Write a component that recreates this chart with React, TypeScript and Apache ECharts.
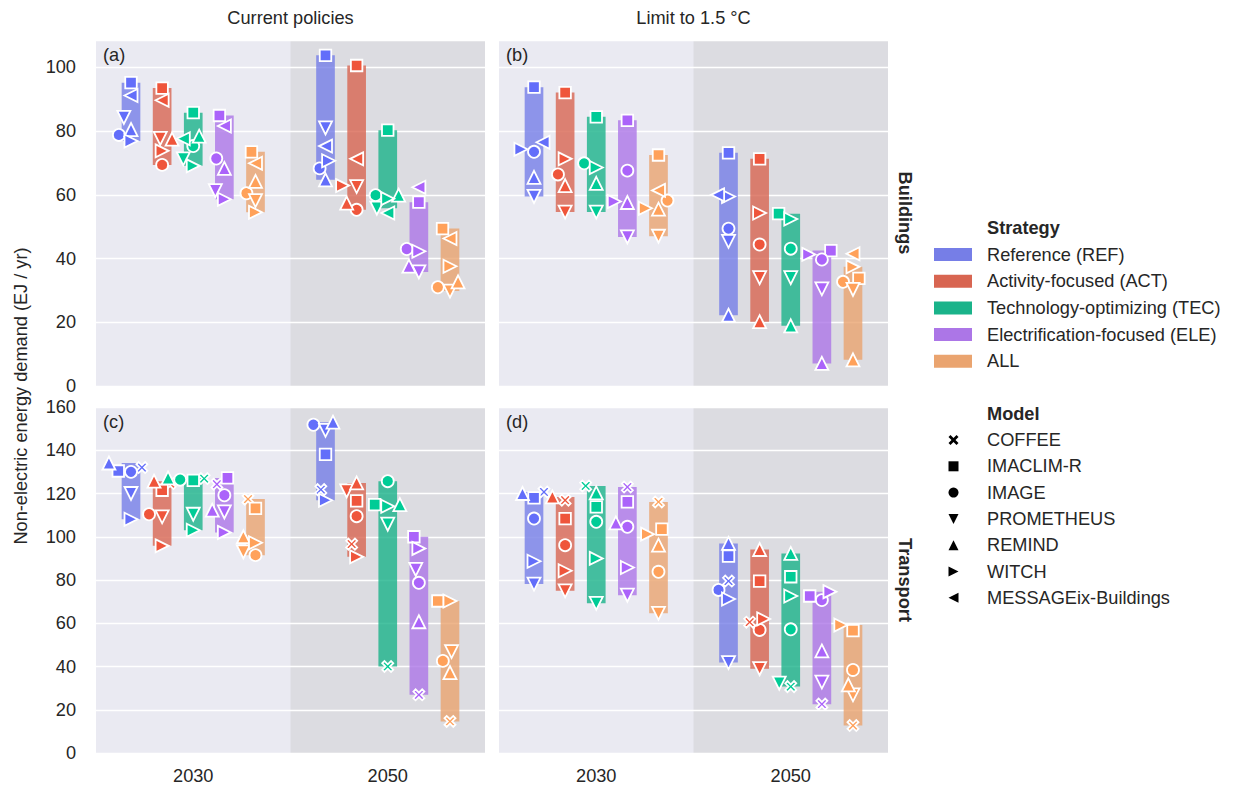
import { useEffect, useRef } from "react";
import * as echarts from "echarts";

// ---------- data ----------
const SCENARIOS = ["Current policies", "Limit to 1.5 °C"];
const SECTORS = ["Buildings", "Transport"];
const YEARS = ["2030", "2050"];
const STRATEGIES = [
  "Reference (REF)",
  "Activity-focused (ACT)",
  "Technology-optimizing (TEC)",
  "Electrification-focused (ELE)",
  "ALL",
];
const MODELS = ["COFFEE", "IMACLIM-R", "IMAGE", "PROMETHEUS", "REMIND", "WITCH", "MESSAGEix-Buildings"];
const BAR_EXCLUDED_MODELS = ["MESSAGEix-Buildings"];
const PANEL_TAGS = ["(a)", "(b)", "(c)", "(d)"];
const Y_LABEL = "Non-electric energy demand (EJ / yr)";

const N = null;
// columns: 2030 REF, ACT, TEC, ELE, ALL, 2050 REF, ACT, TEC, ELE, ALL ; rows follow MODELS
const BUILDINGS_CURRENT: (number | null)[][] = [
  [N, N, N, N, N, N, N, N, N, N],
  [95.2, 93.5, 85.8, 84.9, 73.5, 103.8, 100.6, 80.3, 57.7, 49.4],
  [78.8, 69.4, 75.3, 71.4, 60.5, 68.3, 55.3, 59.9, 43.0, 31.0],
  [84.3, 77.7, 71.3, 61.3, 58.2, 81.0, 62.6, 55.8, 35.8, 29.8],
  [80.5, 77.5, 78.4, 68.3, 64.2, 64.7, 57.4, 59.9, 37.6, 32.7],
  [76.9, 73.8, 69.1, 58.6, 54.5, 70.7, 62.9, 58.8, 42.3, 37.6],
  [91.2, 89.7, 77.6, 81.6, 69.9, 75.3, 71.3, 54.3, 62.4, 46.3],
];
const BUILDINGS_15: (number | null)[][] = [
  [N, N, N, N, N, N, N, N, N, N],
  [93.8, 92.1, 84.5, 83.4, 72.5, 73.2, 71.3, 54.1, 42.5, 33.8],
  [73.5, 66.4, 69.9, 67.6, 58.2, 49.4, 44.4, 43.1, 39.7, 32.7],
  [59.5, 54.6, 54.6, 46.8, 47.0, 45.4, 34.0, 34.0, 30.5, 30.3],
  [65.5, 62.9, 63.6, 57.6, 55.5, 22.2, 20.2, 18.9, 7.1, 8.2],
  [74.3, 71.3, 68.6, 57.9, 55.8, 59.5, 54.3, 52.4, 41.3, 37.4],
  [76.5, N, N, N, 61.4, 60.0, N, N, N, 41.5],
];
const TRANSPORT_CURRENT: (number | null)[][] = [
  [132.0, 124.6, 126.9, 124.3, 117.4, 121.8, 96.6, 40.0, 26.9, 14.6],
  [130.4, 121.5, 126.1, 127.2, 113.1, 138.1, 116.6, 114.9, 100.0, 70.3],
  [130.0, 110.4, 126.4, 119.2, 91.5, 151.8, 109.5, 125.7, 78.7, 42.6],
  [120.0, 109.2, 110.4, 111.5, 93.0, 149.2, 121.2, 105.8, 84.9, 46.9],
  [134.1, 125.7, 127.2, 112.3, 100.0, 153.0, 124.9, 114.9, 60.7, 37.2],
  [108.1, 95.8, 103.0, 102.0, 97.2, 116.9, 90.7, 114.1, 94.6, 70.3],
  [N, N, N, N, N, N, N, N, N, N],
];
const TRANSPORT_15: (number | null)[][] = [
  [120.7, 116.9, 123.5, 123.0, 116.1, 79.5, 60.5, 30.7, 22.6, 12.7],
  [118.0, 108.4, 113.8, 116.1, 103.5, 91.0, 79.5, 81.5, 72.6, 56.6],
  [108.4, 96.1, 106.9, 104.6, 83.8, 75.4, 56.9, 57.2, 70.7, 38.4],
  [78.1, 75.0, 69.2, 73.0, 64.6, 41.8, 39.0, 32.3, 32.8, 26.9],
  [120.0, 118.4, 120.3, 106.4, 96.1, 96.9, 94.1, 92.3, 47.2, 31.5],
  [88.7, 84.3, 90.0, 85.8, 101.2, 71.2, 62.0, 72.6, 74.6, 59.2],
  [N, N, N, N, N, N, N, N, N, N],
];

// horizontal dodge of each marker, as a fraction of one strategy slot
const Z10 = [0, 0, 0, 0, 0, 0, 0, 0, 0, 0];
const DODGE_BUILDINGS_CURRENT = [
  Z10,
  [0, 0, 0, -0.16, -0.13, 0, 0, 0, 0, -0.24],
  [-0.39, 0, 0, -0.26, -0.29, -0.19, 0, -0.39, -0.39, -0.39],
  [-0.23, -0.06, -0.32, -0.29, 0, 0, 0, -0.35, 0, 0],
  [0, 0.32, 0.19, 0, 0, 0, -0.32, 0.35, -0.32, 0.26],
  [0, 0, 0, 0, 0, 0.1, -0.45, 0, 0, 0],
  [0, 0, -0.32, 0, 0, 0, 0, 0, 0, 0],
];
const DODGE_BUILDINGS_15 = [
  Z10,
  [0, 0, 0, 0, 0, 0, 0, -0.39, 0.29, 0.19],
  [0, -0.23, -0.39, 0, 0.29, 0, 0, 0, 0, -0.32],
  Z10,
  Z10,
  [-0.42, 0, 0, -0.42, -0.42, 0, 0, 0, -0.42, 0],
  [0.29, 0, 0, 0, 0, -0.35, 0, 0, 0, 0],
];
const DODGE_TRANSPORT_CURRENT = [
  [0.35, 0.26, 0.35, -0.24, -0.24, -0.15, -0.16, 0, 0, 0],
  [-0.41, 0, 0, 0.1, 0, 0, 0, -0.42, -0.16, -0.39],
  [0, -0.42, -0.42, 0, 0, -0.39, 0, 0, 0, -0.23],
  [0, 0, 0, 0, -0.39, 0, -0.32, 0, -0.1, 0.05],
  [-0.71, -0.26, -0.81, -0.39, -0.39, 0.24, 0, 0.39, 0, 0],
  Z10,
  Z10,
];
const DODGE_TRANSPORT_15 = [
  [0.32, 0, -0.34, 0, 0, 0, -0.32, 0, 0, 0],
  [0, 0, 0, 0, 0.11, 0, 0, 0, -0.39, 0],
  [0, 0, 0, 0, 0, -0.32, 0, 0, 0, 0],
  [0, 0, 0, 0, 0, 0, 0, -0.37, 0, 0],
  [-0.37, -0.41, 0, -0.37, 0, 0, 0, 0, 0, -0.15],
  [0, 0, 0, 0, -0.35, 0, 0.13, 0, 0.26, -0.39],
  Z10,
];

// ---------- styling ----------
const MARKER_COLORS = ["#636EFA", "#EF553B", "#00CC96", "#AB63FA", "#FFA15A"];
const BAR_COLORS = ["#767EE7", "#D86551", "#1AB38A", "#AC76E7", "#EAA46F"];
const FONT = "'Liberation Sans', Arial, Helvetica, sans-serif";
const TEXT = "#262626";
const FS = 18.2;

const SHAPES: Record<string, number[][]> = {
  COFFEE: [[0, 2], [2, 0], [5, 3], [8, 0], [10, 2], [7, 5], [10, 8], [8, 10], [5, 7], [2, 10], [0, 8], [3, 5]],
  "IMACLIM-R": [[0, 0], [10, 0], [10, 10], [0, 10]],
  PROMETHEUS: [[0, 0], [10, 0], [5, 10]],
  REMIND: [[5, 0], [10, 10], [0, 10]],
  WITCH: [[0, 0], [10, 5], [0, 10]],
  "MESSAGEix-Buildings": [[10, 0], [0, 5], [10, 10]],
};
const SYMBOL_SIZE: Record<string, number> = {
  COFFEE: 11, "IMACLIM-R": 11.5, IMAGE: 12, PROMETHEUS: 13, REMIND: 13, WITCH: 13, "MESSAGEix-Buildings": 13,
};
const symbolOf = (m: string) =>
  m === "IMAGE" ? "circle" : "path://M" + SHAPES[m].map((p) => p.join(",")).join(" L") + " Z";

const GRID_LEFT = [96, 499];
const GRID_TOP = [40, 407];
const GRID_W = 389;
const GRID_H = 346;
const Y_MAX = [108.6, 160];
const SLOT = 0.16;
const BAR_W = 0.096;

const PANELS = [
  { values: BUILDINGS_CURRENT, dodge: DODGE_BUILDINGS_CURRENT, row: 0, col: 0 },
  { values: BUILDINGS_15, dodge: DODGE_BUILDINGS_15, row: 0, col: 1 },
  { values: TRANSPORT_CURRENT, dodge: DODGE_TRANSPORT_CURRENT, row: 1, col: 0 },
  { values: TRANSPORT_15, dodge: DODGE_TRANSPORT_15, row: 1, col: 1 },
];

const colX = (k: number) => Math.floor(k / 5) + 0.5 + ((k % 5) - 2) * SLOT;

function buildOption() {
  const grid: any[] = [];
  const xAxis: any[] = [];
  const yAxis: any[] = [];
  const series: any[] = [];
  const graphic: any[] = [];

  PANELS.forEach((p, i) => {
    grid.push({
      left: GRID_LEFT[p.col], top: GRID_TOP[p.row], width: GRID_W, height: GRID_H,
      show: true, backgroundColor: "#EAEAF2", borderWidth: 0,
    });
    xAxis.push({
      gridIndex: i, type: "value", min: 0, max: 2, interval: 0.5,
      axisLine: { show: false }, axisTick: { show: false }, splitLine: { show: false },
      axisLabel: {
        show: p.row === 1, margin: 14, fontSize: FS, color: TEXT, fontFamily: FONT,
        formatter: (v: number) => (Math.abs(v - 0.5) < 1e-6 ? YEARS[0] : Math.abs(v - 1.5) < 1e-6 ? YEARS[1] : ""),
      },
    });
    yAxis.push({
      gridIndex: i, type: "value", min: 0, max: Y_MAX[p.row], interval: 20, z: 1,
      axisLine: { show: false }, axisTick: { show: false },
      splitLine: { show: true, lineStyle: { color: "#FFFFFF", width: 1.4 } },
      axisLabel: {
        show: p.col === 0, margin: 20, fontSize: FS, color: TEXT, fontFamily: FONT,
        showMaxLabel: p.row === 1,
      },
    });

    // darker 2050 half
    series.push({
      type: "custom", xAxisIndex: i, yAxisIndex: i, z: 0, silent: true,
      data: [[1, 0]], encode: { x: 0, y: 1 },
      renderItem: (params: any, api: any) => {
        const cs = params.coordSys;
        const x0 = api.coord([1, 0])[0];
        return {
          type: "rect",
          shape: { x: x0, y: cs.y, width: cs.x + cs.width - x0, height: cs.height },
          style: { fill: "#DCDCE1" },
        };
      },
    });

    // range bars
    const barData: number[][] = [];
    for (let k = 0; k < 10; k++) {
      const vals = MODELS.map((m, mi) => (BAR_EXCLUDED_MODELS.includes(m) ? null : p.values[mi][k])).filter(
        (v): v is number => v !== null
      );
      if (!vals.length) continue;
      barData.push([colX(k), Math.min(...vals), Math.max(...vals), k % 5]);
    }
    series.push({
      type: "custom", xAxisIndex: i, yAxisIndex: i, z: 2, silent: true,
      data: barData, encode: { x: 0, y: [1, 2] },
      renderItem: (_params: any, api: any) => {
        const x = api.value(0), lo = api.value(1), hi = api.value(2), s = api.value(3);
        const a = api.coord([x - BAR_W / 2, hi]);
        const b = api.coord([x + BAR_W / 2, lo]);
        return {
          type: "rect",
          shape: { x: a[0], y: a[1], width: b[0] - a[0], height: b[1] - a[1] },
          style: { fill: BAR_COLORS[s], opacity: 0.8 },
        };
      },
    });

    // model markers
    MODELS.forEach((m, mi) => {
      const data: any[] = [];
      p.values[mi].forEach((v, k) => {
        if (v === null) return;
        data.push({
          value: [colX(k) + p.dodge[mi][k] * SLOT, v],
          itemStyle: { color: MARKER_COLORS[k % 5] },
        });
      });
      if (!data.length) return;
      series.push({
        type: "scatter", name: m, xAxisIndex: i, yAxisIndex: i, z: 3,
        symbol: symbolOf(m), symbolSize: SYMBOL_SIZE[m],
        itemStyle: { borderColor: "#FFFFFF", borderWidth: 1.8, opacity: 1 },
        data,
      });
    });

    graphic.push({
      type: "text", x: GRID_LEFT[p.col] + 7, y: GRID_TOP[p.row] + 15,
      style: { text: PANEL_TAGS[i], font: `${FS}px ${FONT}`, fill: TEXT, textAlign: "left", align: "left", textVerticalAlign: "middle", verticalAlign: "middle" },
    });
  });

  const txt = (text: string, x: number, y: number, opts: any = {}) => ({
    type: "text", x, y, rotation: opts.rotation || 0,
    style: {
      text, font: `${opts.bold ? "bold " : ""}${opts.size || FS}px ${FONT}`, fill: TEXT,
      textAlign: opts.align || "center", align: opts.align || "center",
      textVerticalAlign: "middle", verticalAlign: "middle",
    },
  });

  SCENARIOS.forEach((s, c) => graphic.push(txt(s, GRID_LEFT[c] + GRID_W / 2, 18)));
  SECTORS.forEach((s, r) =>
    graphic.push(txt(s, 905, GRID_TOP[r] + GRID_H / 2, { bold: true, rotation: -Math.PI / 2 }))
  );
  graphic.push(txt(Y_LABEL, 21, 396, { rotation: Math.PI / 2 }));

  // legend: strategies
  graphic.push(txt("Strategy", 987, 228, { bold: true, align: "left" }));
  STRATEGIES.forEach((s, k) => {
    const y = 254.5 + k * 26.7;
    graphic.push({ type: "rect", shape: { x: 934, y: y - 6.5, width: 38, height: 13 }, style: { fill: BAR_COLORS[k] } });
    graphic.push(txt(s, 987, y, { align: "left" }));
  });
  // legend: models
  graphic.push(txt("Model", 987, 413.5, { bold: true, align: "left" }));
  MODELS.forEach((m, k) => {
    const y = 440 + k * 26.3;
    const cx = 953.5;
    const size = 10;
    if (m === "IMAGE") {
      graphic.push({ type: "circle", shape: { cx, cy: y, r: size / 2 }, style: { fill: "#000" } });
    } else {
      const pts = SHAPES[m].map(([px, py]) => [cx - size / 2 + (px * size) / 10, y - size / 2 + (py * size) / 10]);
      graphic.push({ type: "polygon", shape: { points: pts }, style: { fill: "#000" } });
    }
    graphic.push(txt(m, 987, y, { align: "left" }));
  });

  return {
    animation: false,
    backgroundColor: "#FFFFFF",
    textStyle: { fontFamily: FONT },
    grid, xAxis, yAxis, series, graphic,
  };
}

export default function App() {
  const ref = useRef<HTMLDivElement>(null);
  useEffect(() => {
    document.body.style.margin = "0";
    if (!ref.current) return;
    const chart = echarts.init(ref.current, undefined, { renderer: "svg" });
    chart.setOption(buildOption() as any);
    return () => chart.dispose();
  }, []);
  return <div ref={ref} style={{ width: 1236, height: 791 }} />;
}
